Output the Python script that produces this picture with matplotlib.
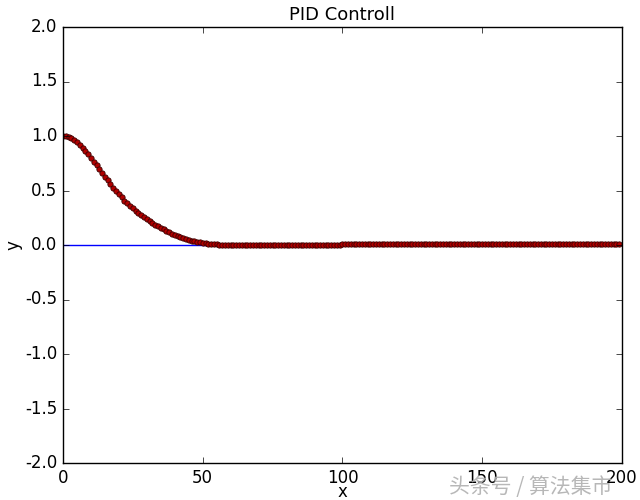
import matplotlib
matplotlib.use('Agg')
import numpy as np
import matplotlib.pyplot as plt

plt.style.use('classic')

# feedback values, one per step
head = [1.000, 0.997, 0.990, 0.978, 0.962, 0.942, 0.918, 0.892, 0.864, 0.833,
        0.800, 0.765, 0.730, 0.695, 0.661, 0.628, 0.594, 0.560, 0.527, 0.495,
        0.465, 0.436, 0.408, 0.382, 0.358, 0.335, 0.314, 0.294, 0.275, 0.257,
        0.240, 0.222, 0.205, 0.188, 0.172, 0.157, 0.143, 0.130, 0.117, 0.105,
        0.094, 0.083, 0.073, 0.064, 0.056, 0.048, 0.041, 0.035, 0.029, 0.024,
        0.019, 0.015, 0.012, 0.009, 0.007, 0.005, 0.003, 0.001, 0.000, -0.001,
        -0.002]
settle_low = -0.003   # level from step 61 to 99
settle_high = 0.008   # level from step 100 on
setpoint = 0.0

n_steps = 200
feedback = head + [settle_low] * (100 - len(head)) + [settle_high] * (n_steps - 100)
steps = np.arange(n_steps)

fig = plt.figure(figsize=(6.4, 5.0), dpi=100, facecolor='white')
ax = fig.add_axes([0.0984, 0.074, 0.8734, 0.872])
ax.set_facecolor('white')

ax.plot([0, n_steps], [setpoint, setpoint], color='b', linewidth=1)
ax.plot(steps, feedback, linestyle='none', marker='o', markersize=3.8,
        markerfacecolor='#b00000', markeredgecolor='#3a0000', markeredgewidth=0.6)

ax.set_xlim(0, 200)
ax.set_ylim(-2, 2)
ax.set_xticks([0, 50, 100, 150, 200])
ax.set_yticks(np.arange(-2.0, 2.01, 0.5))
ax.set_yticklabels(['%.1f' % v for v in np.arange(-2.0, 2.01, 0.5)])
ax.tick_params(labelsize=12)
ax.set_xlabel('x', fontsize=12)
ax.xaxis.set_label_coords(0.5, -0.047)
ax.set_ylabel('y', fontsize=12, labelpad=2)
ax.set_title('PID Controll', fontsize=13, y=1.0)

# watermark in the corner
fig.text(0.957, 0.026, '头条号 / 算法集市', ha='right', va='center', fontsize=15,
         color='#b0b0b0', family=['Noto Sans CJK SC', 'DejaVu Sans'], alpha=0.9)

fig.savefig('out.png', dpi=100, facecolor='white')
